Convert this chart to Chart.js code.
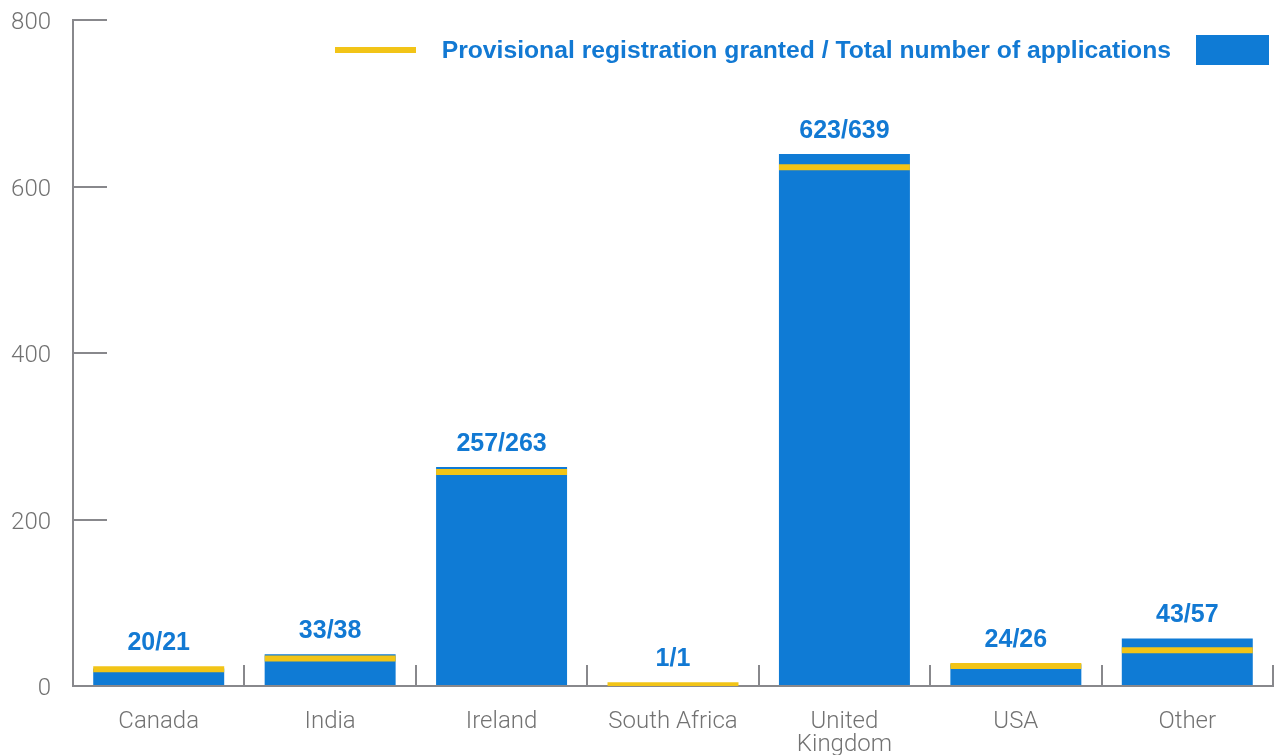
<!DOCTYPE html>
<html>
<head>
<meta charset="utf-8">
<script src="https://cdn.jsdelivr.net/npm/chart.js@4"></script>
<style>
  html, body { margin: 0; padding: 0; background: #fff; }
  #wrap { position: relative; width: 1277px; height: 755px; }
  #legend {
    position: absolute; top: 35px; right: 8px; height: 30px;
    display: flex; align-items: center;
    font: bold 24.7px "Liberation Sans", Arial, sans-serif; color: #1279d3;
  }
  #legend .line { width: 81px; height: 6px; background: #f2c417; margin-right: 26px; }
  #legend .box { width: 73px; height: 30px; background: #0f7bd5; margin-left: 25px; }
</style>
</head>
<body>
<div id="wrap">
  <canvas id="chart" width="1277" height="755"></canvas>
  <div id="legend">
    <span class="line"></span>
    <span>Provisional registration granted / Total number of applications</span>
    <span class="box"></span>
  </div>
</div>
<script>
// countries shown on the x axis
const countries = ['Canada', 'India', 'Ireland', 'South Africa', ['United', 'Kingdom'], 'USA', 'Other'];
// provisional registrations granted (yellow marks)
const granted = [20, 33, 257, 1, 623, 24, 43];
// total number of applications (blue bars)
const applications = [21, 38, 263, 1, 639, 26, 57];
const yTicks = [0, 200, 400, 600, 800];

const BLUE = '#0f7bd5';
const YELLOW = '#f2c417';
const AXIS = '#88888c';
const TEXT = '#727272';
const BAR_PCT = 0.764;

// puts "granted/total" above each bar
const valueLabels = {
  id: 'valueLabels',
  afterDatasetsDraw(chart) {
    const ctx = chart.ctx;
    const marks = chart.getDatasetMeta(0).data;
    const bars = chart.getDatasetMeta(1).data;
    ctx.save();
    ctx.font = 'bold 25px "Liberation Sans", Arial, sans-serif';
    ctx.fillStyle = '#1279d3';
    ctx.textAlign = 'center';
    ctx.textBaseline = 'middle';
    bars.forEach((bar, i) => {
      const top = Math.min(bar.y, marks[i].y - 3);
      ctx.fillText(`${granted[i]}/${applications[i]}`, bar.x, top - 23);
    });
    ctx.restore();
  }
};

// big tick paddings would otherwise push the plot area inwards
function noScalePadding(s) {
  s.paddingTop = 0;
  s.paddingBottom = 0;
  s.paddingLeft = 0;
  s.paddingRight = 0;
}

new Chart(document.getElementById('chart'), {
  type: 'bar',
  data: {
    labels: countries,
    datasets: [
      {
        type: 'line',
        label: 'Provisional registration granted',
        data: granted,
        showLine: false,
        pointStyle: 'line',
        pointBorderColor: YELLOW,
        pointBackgroundColor: YELLOW,
        pointBorderWidth: 6,
        pointRadius: (c) => {
          const x = c.chart.scales.x;
          return x.width / countries.length * BAR_PCT / 2;
        },
        order: 0
      },
      {
        type: 'bar',
        label: 'Total number of applications',
        data: applications,
        backgroundColor: BLUE,
        barPercentage: BAR_PCT,
        categoryPercentage: 1,
        order: 1
      }
    ]
  },
  options: {
    responsive: false,
    animation: false,
    devicePixelRatio: 1,
    layout: { autoPadding: false, padding: { top: 20, right: 4, left: 0, bottom: 0 } },
    plugins: {
      legend: { display: false },
      tooltip: { enabled: false }
    },
    scales: {
      y: {
        min: 0,
        max: 800,
        afterBuildTicks: (s) => { s.ticks = yTicks.map(v => ({ value: v })); },
        afterFit: (s) => { s.width = 73; noScalePadding(s); },
        ticks: {
          color: TEXT,
          padding: 56,
          labelOffset: 3,
          font: { family: 'Roboto', weight: 300, size: 24 }
        },
        grid: { drawOnChartArea: false, tickLength: -34, color: AXIS, lineWidth: 2 },
        border: { color: AXIS, width: 2 }
      },
      x: {
        afterFit: (s) => { s.height = 69; noScalePadding(s); },
        ticks: {
          color: TEXT,
          padding: 46,
          autoSkip: false,
          maxRotation: 0,
          font: { family: 'Roboto', weight: 300, size: 24, lineHeight: 0.94 }
        },
        grid: { offset: true, drawOnChartArea: false, tickLength: -21, color: AXIS, lineWidth: 2 },
        border: { color: AXIS, width: 2 }
      }
    }
  },
  plugins: [valueLabels]
});
</script>
</body>
</html>
